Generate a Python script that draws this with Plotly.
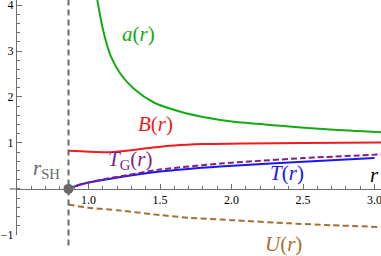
import plotly.graph_objects as go

# ---- data ----
r_SH = 0.86

r_a = [1.058, 1.065, 1.107, 1.154, 1.224, 1.317, 1.457, 1.643, 1.83, 2.016, 2.32, 2.69, 3.05]
a_vals = [4.2, 4.05, 3.39, 2.9, 2.5, 2.18, 1.88, 1.68, 1.55, 1.46, 1.38, 1.29, 1.23]

r_B = [0.86, 1.0, 1.15, 1.3, 1.45, 1.6, 1.8, 2.1, 2.5, 3.05]
B_vals = [0.83, 0.81, 0.80, 0.84, 0.90, 0.945, 0.975, 0.99, 1.0, 1.01]

r_T = [0.86, 0.9, 0.95, 1.04, 1.27, 1.5, 1.92, 2.5, 3.0]
T_vals = [0.0, 0.05, 0.10, 0.16, 0.28, 0.38, 0.49, 0.59, 0.67]

r_TG = [0.86, 0.9, 0.95, 1.04, 1.27, 1.5, 1.92, 2.5, 3.05]
TG_vals = [0.0, 0.05, 0.10, 0.17, 0.30, 0.42, 0.55, 0.67, 0.75]

r_U = [0.86, 1.0, 1.22, 1.5, 1.71, 2.0, 2.41, 2.7, 3.05]
U_vals = [-0.34, -0.41, -0.47, -0.57, -0.63, -0.68, -0.75, -0.79, -0.83]

x_ticks = [1.0, 1.5, 2.0, 2.5, 3.0]
x_ticktext = ["1.0", "1.5", "2.0", "2.5", "3.0"]
y_ticks = [-1, 1, 2, 3, 4]
y_ticktext = ["\u22121", "1", "2", "3", "4"]

# ---- styling ----
GREEN = "rgb(20,170,20)"
RED = "rgb(238,28,28)"
BLUE = "rgb(25,25,235)"
PURPLE = "rgb(128,30,140)"
BROWN = "rgb(165,110,50)"
GRAY = "rgb(105,105,105)"
AXIS = "rgb(110,110,110)"
SERIF = "Liberation Serif, Times New Roman, serif"

x_range = [0.5, 3.045]
y_range = [-1.003, 4.11]

fig = go.Figure()

def curve(x, y, color, dash=None):
    fig.add_trace(go.Scatter(
        x=x, y=y, mode="lines",
        line=dict(color=color, width=2, dash=dash, shape="spline", smoothing=0.7),
        hoverinfo="skip", showlegend=False))

curve(r_a, a_vals, GREEN)
curve(r_B, B_vals, RED)
curve(r_U, U_vals, BROWN, dash="6px,3.5px")
curve(r_T, T_vals, BLUE)
curve(r_TG, TG_vals, PURPLE, dash="6px,3px")

# vertical dashed line at r_SH
fig.add_shape(type="line", xref="x", yref="paper", x0=r_SH, x1=r_SH, y0=-0.045, y1=1,
              line=dict(color=GRAY, width=2, dash="6px,4px"))
# small extension of x axis to the left of y axis
span = y_range[1] - y_range[0]
pos0 = (0 - y_range[0]) / span
fig.add_shape(type="line", xref="paper", yref="y", x0=-0.02, x1=0, y0=0, y1=0,
              line=dict(color=AXIS, width=1.2))

fig.add_trace(go.Scatter(x=[r_SH], y=[0], mode="markers",
                         marker=dict(color=GRAY, size=10), cliponaxis=False,
                         hoverinfo="skip", showlegend=False))

def label(x, y, text, color):
    # y given in data units, converted to paper so labels outside the range still show
    fig.add_annotation(x=x, y=(y - y_range[0]) / span, xref="x", yref="paper",
                       xanchor="center", yanchor="middle",
                       text=text, showarrow=False,
                       font=dict(family=SERIF, size=21, color=color))

label(1.35, 3.37, "<i>a</i>(<i>r</i>)", GREEN)
label(1.47, 1.41, "<i>B</i>(<i>r</i>)", RED)
label(1.29, 0.63, "<i>T</i><sub>G</sub>(<i>r</i>)", PURPLE)
label(2.39, 0.34, "<i>T</i>(<i>r</i>)", BLUE)
label(2.36, -1.20, "<i>U</i>(<i>r</i>)", BROWN)
label(0.705, 0.43, "<i>r</i><sub>SH</sub>", GRAY)
label(3.0, 0.30, "<i>r</i>", "black")

fig.update_layout(
    template="none",
    width=381, height=256,
    margin=dict(l=17, r=0, t=0, b=21, autoexpand=False),
    paper_bgcolor="white", plot_bgcolor="white",
    font=dict(family=SERIF),
    xaxis=dict(range=x_range, anchor="free", position=pos0, side="bottom",
               automargin=False, ticklabeloverflow="allow",
               showline=True, linecolor=AXIS, linewidth=1.2,
               showgrid=False, zeroline=False,
               tickmode="array", tickvals=x_ticks, ticktext=x_ticktext,
               ticks="inside", ticklen=5, tickwidth=1, tickcolor=AXIS,
               tickfont=dict(family=SERIF, size=12, color="black"),
               minor=dict(ticks="inside", ticklen=3, tickcolor=AXIS, dtick=0.1, tick0=0.5, showgrid=False)),
    yaxis=dict(range=y_range, automargin=False, ticklabeloverflow="allow",
               showline=True, linecolor=AXIS, linewidth=1.2,
               showgrid=False, zeroline=False,
               tickmode="array", tickvals=y_ticks, ticktext=y_ticktext,
               ticks="inside", ticklen=5, tickwidth=1, tickcolor=AXIS,
               tickfont=dict(family=SERIF, size=12, color="black"),
               minor=dict(ticks="inside", ticklen=3, tickcolor=AXIS, dtick=0.2, tick0=0, showgrid=False)),
)

fig.write_html("out.html", config={"displayModeBar": False},
               post_script="document.body.style.margin='0';document.body.style.padding='0';")
